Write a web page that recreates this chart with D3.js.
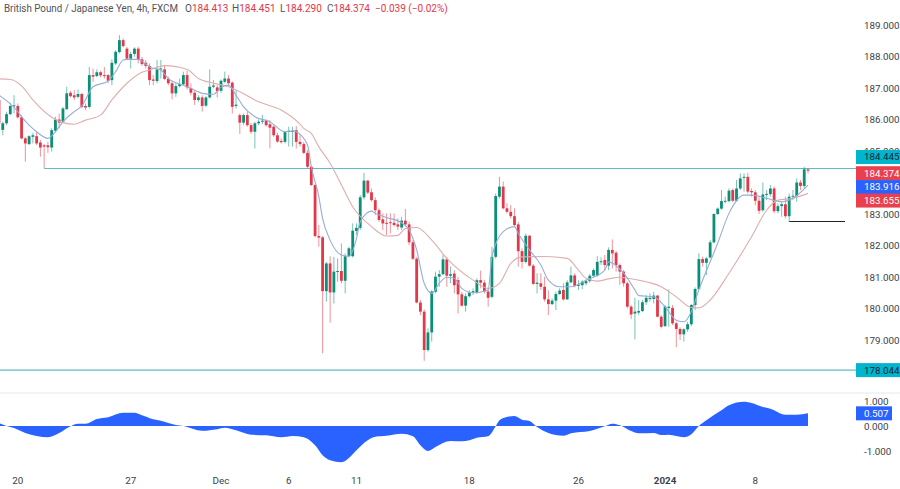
<!DOCTYPE html>
<html>

<head>
    <meta charset="UTF-8">
    <script src="https://d3js.org/d3.v7.min.js"></script>
    <title>GBPJPY 4h</title>
    <style>
        html, body { margin: 0; padding: 0; background: #fff; }
        svg { display: block; }
        text { font-family: Roboto, "Noto Sans", sans-serif; }
    </style>
</head>

<body>
    <svg id="chart" width="900" height="489"></svg>

    <script>
        // candles, one value per 4h bar
        const opens = [
            186.62, 185.67, 185.88, 186.17, 186.43, 186.43, 186.07, 185.40, 185.22, 185.45,
            185.47, 185.27, 185.18, 185.18, 185.11, 185.64, 186.00, 185.93, 186.33, 186.85,
            186.77, 186.72, 186.81, 186.43, 186.40, 187.41, 187.38, 187.50, 187.41, 187.41,
            187.25, 187.78, 188.14, 188.52, 188.25, 187.93, 188.08, 188.25, 187.91, 187.80,
            187.70, 187.27, 187.22, 187.59, 187.59, 187.29, 187.15, 186.83, 187.06, 187.12,
            187.41, 187.00, 186.85, 186.62, 186.70, 186.44, 186.70, 187.04, 187.02, 186.91,
            187.20, 187.30, 187.17, 186.43, 186.14, 185.90, 186.14, 185.82, 185.61, 185.88,
            185.93, 185.96, 185.85, 185.77, 185.50, 185.32, 185.29, 185.62, 185.62, 185.66,
            185.29, 185.22, 184.94, 184.50, 183.92, 182.30, 182.26, 180.55, 181.43, 180.51,
            181.17, 181.19, 180.88, 181.66, 181.66, 182.46, 182.56, 183.53, 184.06, 183.69,
            183.44, 183.12, 182.83, 182.72, 182.74, 182.72, 182.67, 182.57, 182.79, 182.67,
            182.10, 181.58, 180.19, 179.90, 178.68, 179.24, 180.53, 181.01, 181.09, 181.56,
            181.04, 181.11, 180.90, 180.45, 180.09, 180.39, 180.50, 180.50, 180.90, 180.82,
            180.54, 180.37, 181.64, 183.55, 183.87, 183.18, 183.07, 182.93, 182.67, 181.82,
            181.48, 182.31, 181.36, 180.78, 180.80, 180.69, 180.29, 180.14, 180.25, 180.46,
            180.59, 180.29, 180.83, 181.05, 180.72, 180.74, 180.80, 180.87, 181.04, 181.04,
            181.48, 181.54, 181.36, 181.86, 181.77, 181.38, 181.17, 180.80, 180.06, 179.84,
            179.87, 179.92, 180.20, 180.30, 180.30, 180.41, 179.74, 179.44, 180.02, 180.02,
            179.53, 179.35, 179.18, 179.34, 179.50, 180.11, 180.62, 181.57, 181.45, 181.62,
            182.10, 183.00, 183.17, 183.40, 183.41, 183.76, 183.42, 183.81, 184.15, 184.18,
            183.73, 183.69, 183.42, 183.12, 183.62, 183.63, 183.81, 183.09, 183.25, 183.31,
            182.93, 183.55, 183.57, 184.00, 183.89, 184.413
        ];
        const highs = [
            186.99, 185.93, 186.25, 186.53, 186.77, 186.51, 186.14, 185.45, 185.50, 185.58,
            185.61, 185.35, 185.22, 185.29, 185.72, 186.09, 186.19, 186.40, 187.04, 186.91,
            186.93, 186.95, 186.85, 186.51, 187.67, 187.62, 187.59, 187.55, 187.67, 187.44,
            187.91, 188.20, 188.68, 188.57, 188.31, 188.15, 188.29, 188.31, 187.99, 187.89,
            187.78, 187.41, 187.89, 187.89, 187.73, 187.36, 187.20, 187.15, 187.30, 187.52,
            187.55, 187.15, 186.93, 186.77, 186.77, 186.74, 187.59, 187.25, 187.09, 187.27,
            187.52, 187.41, 187.21, 186.93, 186.19, 186.19, 186.25, 185.88, 185.93, 186.00,
            186.14, 186.00, 185.98, 185.82, 185.58, 185.40, 185.64, 185.77, 185.77, 185.79,
            185.50, 185.29, 185.03, 184.53, 183.95, 182.65, 182.30, 181.48, 181.66, 181.64,
            181.59, 182.07, 181.75, 181.96, 182.70, 182.70, 183.60, 184.31, 184.08, 183.81,
            183.53, 183.18, 183.02, 183.02, 183.02, 183.02, 182.86, 182.91, 183.16, 182.75,
            182.17, 181.64, 180.27, 179.97, 179.37, 180.58, 181.17, 181.22, 181.70, 181.64,
            181.33, 181.22, 181.01, 180.53, 180.48, 180.58, 180.64, 180.96, 181.20, 180.90,
            180.64, 181.96, 183.65, 184.18, 184.03, 183.34, 183.28, 183.18, 182.75, 181.91,
            182.38, 182.33, 181.41, 181.12, 181.12, 181.01, 180.58, 180.32, 180.53, 180.64,
            180.80, 180.90, 181.33, 181.12, 180.90, 180.90, 180.92, 181.09, 181.27, 181.66,
            181.62, 181.70, 181.94, 182.19, 181.83, 181.43, 181.22, 180.85, 180.11, 180.34,
            180.27, 180.27, 180.43, 180.48, 180.53, 180.43, 179.79, 180.11, 180.61, 180.11,
            179.58, 179.40, 179.37, 179.58, 180.14, 180.67, 181.75, 181.64, 181.64, 182.17,
            183.02, 183.21, 183.76, 183.55, 183.81, 183.81, 184.08, 184.29, 184.29, 184.31,
            183.81, 183.76, 183.55, 184.00, 183.76, 183.92, 183.87, 183.34, 183.39, 183.55,
            183.65, 183.76, 184.13, 184.08, 184.50, 184.451
        ];
        const lows = [
            185.61, 185.50, 185.82, 186.14, 186.19, 186.03, 185.37, 184.66, 185.19, 185.24,
            185.19, 184.82, 184.45, 184.94, 184.98, 185.61, 185.72, 185.90, 186.30, 186.70,
            186.62, 186.67, 186.35, 186.30, 186.35, 187.20, 187.34, 187.34, 187.30, 187.15,
            187.09, 187.73, 188.10, 188.29, 187.89, 187.62, 187.99, 187.78, 187.70, 187.62,
            187.09, 187.09, 187.15, 187.30, 187.25, 187.09, 186.64, 186.72, 187.02, 187.08,
            186.95, 186.77, 186.46, 186.56, 186.25, 186.40, 186.67, 186.99, 186.70, 186.85,
            187.15, 187.09, 186.19, 186.35, 185.54, 185.82, 185.77, 185.54, 185.08, 185.82,
            185.85, 185.77, 185.08, 185.45, 185.26, 185.24, 185.24, 185.14, 185.14, 185.08,
            185.14, 184.90, 184.45, 183.89, 182.26, 181.96, 178.58, 180.22, 179.55, 180.16,
            180.85, 180.80, 180.48, 181.62, 181.62, 182.33, 182.49, 183.46, 183.63, 183.39,
            182.97, 182.75, 182.49, 182.33, 182.38, 182.60, 182.49, 182.49, 182.60, 182.01,
            181.54, 180.16, 179.79, 178.34, 178.63, 178.95, 180.48, 180.69, 181.06, 180.69,
            180.80, 180.48, 179.84, 180.06, 179.90, 180.35, 180.43, 180.46, 180.64, 180.48,
            180.06, 180.32, 181.59, 183.50, 183.15, 183.02, 182.86, 182.60, 181.33, 181.27,
            181.43, 181.33, 180.75, 180.48, 180.59, 180.22, 179.79, 180.11, 179.95, 180.43,
            180.25, 180.27, 180.80, 180.67, 180.59, 180.61, 180.74, 180.82, 181.01, 181.01,
            181.38, 181.22, 181.22, 181.27, 181.17, 180.75, 180.69, 180.00, 179.66, 179.02,
            179.79, 179.88, 180.11, 180.22, 180.16, 179.72, 179.37, 179.42, 179.42, 179.47,
            178.77, 179.00, 178.95, 179.26, 179.44, 179.95, 180.58, 181.33, 181.06, 181.59,
            182.07, 182.97, 183.13, 183.34, 183.37, 183.38, 183.39, 183.76, 183.71, 183.65,
            183.55, 183.28, 183.00, 183.07, 183.44, 183.55, 183.02, 183.02, 182.91, 182.86,
            182.75, 183.44, 183.39, 183.76, 183.81, 184.29
        ];
        const closes = [
            185.88, 185.88, 186.17, 186.43, 186.45, 186.07, 185.40, 185.24, 185.47, 185.50,
            185.24, 185.11, 185.14, 185.12, 185.66, 186.00, 185.90, 186.35, 186.83, 186.74,
            186.70, 186.81, 186.40, 186.38, 187.41, 187.36, 187.50, 187.40, 187.39, 187.23,
            187.80, 188.15, 188.52, 188.33, 187.93, 188.08, 188.25, 187.91, 187.76, 187.70,
            187.25, 187.23, 187.59, 187.62, 187.29, 187.15, 186.83, 187.06, 187.12, 187.41,
            187.02, 186.85, 186.62, 186.70, 186.43, 186.70, 187.04, 187.08, 186.90, 187.23,
            187.30, 187.15, 186.40, 186.47, 185.90, 186.14, 185.82, 185.61, 185.88, 185.93,
            185.96, 185.82, 185.74, 185.50, 185.30, 185.28, 185.60, 185.64, 185.64, 185.29,
            185.22, 184.94, 184.50, 183.92, 182.30, 182.25, 180.55, 181.43, 180.51, 181.17,
            181.19, 180.88, 181.66, 181.91, 182.47, 182.56, 183.53, 184.06, 183.68, 183.44,
            183.12, 182.81, 182.70, 182.70, 182.72, 182.65, 182.60, 182.79, 182.67, 182.10,
            181.58, 180.19, 179.90, 178.68, 179.24, 180.54, 181.01, 181.09, 181.56, 181.04,
            181.09, 180.74, 180.45, 180.09, 180.39, 180.50, 180.55, 180.90, 180.82, 180.54,
            180.34, 181.64, 183.57, 183.87, 183.18, 183.07, 182.93, 182.65, 181.82, 181.48,
            182.31, 181.36, 180.78, 180.82, 180.69, 180.29, 180.14, 180.25, 180.46, 180.57,
            180.29, 180.83, 181.05, 180.72, 180.76, 180.85, 180.87, 181.04, 181.22, 181.48,
            181.50, 181.38, 181.86, 181.75, 181.38, 181.17, 180.80, 180.06, 179.81, 179.90,
            179.92, 180.20, 180.34, 180.34, 180.41, 179.74, 179.42, 180.06, 180.06, 179.53,
            179.35, 179.18, 179.34, 179.50, 180.11, 180.62, 181.57, 181.45, 181.59, 182.10,
            183.00, 183.17, 183.41, 183.42, 183.74, 183.42, 183.81, 184.13, 184.18, 183.71,
            183.69, 183.42, 183.10, 183.62, 183.64, 183.81, 183.09, 183.25, 183.31, 182.93,
            183.55, 183.58, 184.00, 183.89, 184.42, 184.374
        ];

        // moving averages, read at the bars where they bend
        const slowBars = [0, 3, 6, 9, 14, 17, 20, 23, 27, 30, 34, 38, 40, 44, 50, 53, 57, 61, 64, 69, 75, 80,
            81, 83, 85, 88, 91, 94, 99, 103, 106, 108, 111, 115, 119, 126, 130, 133, 136, 139, 145, 151,
            154, 156, 159, 162, 165, 169, 176, 180, 184, 186, 189, 194, 200, 204, 207, 211, 215];
        const slowValues = [187.29, 187.27, 187.07, 186.62, 186.07, 185.90, 185.85, 185.98, 186.14, 186.62, 187.15, 187.50, 187.57, 187.71, 187.59, 187.30, 187.15, 187.04, 186.88, 186.56, 186.30, 185.85,
            185.72, 185.56, 185.13, 184.61, 183.92, 183.23, 182.60, 182.30, 182.32, 182.54, 182.57, 182.17, 181.59, 180.90, 180.64, 180.80, 181.43, 181.64, 181.65, 181.59,
            181.22, 180.96, 180.87, 180.94, 180.99, 180.92, 180.69, 180.37, 180.03, 180.02, 180.27, 181.12, 182.28, 183.12, 183.44, 183.50, 183.655];
        const fastBars = [0, 5, 6, 8, 10, 13, 15, 17, 20, 22, 25, 29, 31, 33, 34, 37, 38, 40, 43, 45, 49, 52, 54, 57, 59, 61, 63, 65, 68, 72, 76, 78,
            79, 82, 83, 85, 86, 88, 91, 93, 95, 96, 99, 100, 103, 107, 109, 111, 113, 115, 117, 119, 121, 123, 126, 130, 131, 134, 137, 138, 141, 144, 146, 149, 152,
            156, 161, 162, 166, 169, 170, 174, 177, 180, 182, 184, 186, 191, 194, 198, 200, 204, 208, 211, 215];
        const fastValues = [186.77, 186.25, 186.09, 185.82, 185.61, 185.40, 185.61, 185.93, 186.25, 186.43, 187.04, 187.22, 187.52, 187.89, 187.91, 187.91, 187.85, 187.67, 187.57, 187.30, 187.09, 186.93, 186.83, 186.80, 187.02, 187.09, 186.77, 186.40, 186.09, 185.93, 185.61, 185.64,
            185.61, 185.19, 184.50, 183.55, 182.86, 182.17, 181.70, 181.66, 182.22, 182.75, 183.09, 183.02, 182.89, 182.72, 182.49, 181.86, 180.80, 180.48, 180.80, 180.99, 180.96, 180.64, 180.50, 180.59, 181.64, 182.44, 182.60, 182.38, 181.86, 181.38, 180.90, 180.69, 180.69,
            180.90, 181.22, 181.48, 181.12, 180.59, 180.41, 180.37, 180.06, 179.63, 179.58, 179.90, 180.59, 182.07, 183.02, 183.60, 183.60, 183.50, 183.39, 183.50, 183.916];

        // lower panel
        const oscBars = [0, 2, 4, 7, 10, 13, 16, 19, 21, 23, 26, 29, 33, 36, 38, 41, 43, 47, 49, 54, 58, 60, 63, 67, 71, 75, 78, 81, 84, 86, 88, 91, 93, 95, 98, 100, 103, 107, 110, 112, 114, 116,
            120, 123, 125, 127, 130, 132, 133, 135, 137, 139, 141, 143, 146, 150, 152, 157, 161, 163, 165, 168, 170, 174, 176, 178, 182, 184, 186, 188, 192, 194, 198, 200, 203, 205, 209, 212, 215];
        const oscValues = [0.12, 0, -0.08, -0.28, -0.40, -0.45, -0.28, -0.01, 0.09, 0.09, 0.28, 0.35, 0.53, 0.53, 0.43, 0.27, 0.21, 0.04, 0, -0.19, -0.13, -0.07, -0.17, -0.35, -0.37, -0.45, -0.40, -0.45, -0.77, -1.17, -1.37, -1.45, -1.28, -0.97, -0.57, -0.43, -0.39, -0.31, -0.41, -0.77, -1.0, -0.84,
            -0.60, -0.61, -0.57, -0.47, -0.41, -0.01, 0.23, 0.36, 0.40, 0.25, 0.20, -0.04, -0.28, -0.39, -0.29, -0.20, -0.01, 0.09, 0.03, -0.20, -0.29, -0.28, -0.36, -0.35, -0.45, -0.33, 0, 0.23, 0.63, 0.83, 0.97, 0.92, 0.76, 0.69, 0.45, 0.45, 0.507];

        const priceTicks = [189, 188, 187, 186, 185, 183, 182, 181, 180, 179];
        const oscTicks = [1, 0, -1];

        // labels on the time axis and the bar they sit under
        const dateBars = [5, 35, 59, 77, 95, 125, 154, 177, 201];
        const dateLabels = ['20', '27', 'Dec', '6', '11', '18', '26', '2024', '8'];

        const resistance = 184.445;
        const support = 178.044;
        const lastLow = 182.78;
        const lastLowFromBar = 210;

        const up = '#0b8f76', down = '#e2384a';
        const labelSize = 9.8;

        const svg = d3.select('#chart');
        const xScale = d3.scaleLinear().domain([0, 215]).range([-1, 808]);
        const yScale = d3.scaleLinear().domain([179, 189]).range([340, 25]);
        const oscScale = d3.scaleLinear().domain([-1, 1]).range([451, 401]);

        const bars = opens.map((o, i) => ({ i: i, o: o, h: highs[i], l: lows[i], c: closes[i] }));

        // horizontal levels
        svg.append('line').attr('x1', xScale(12)).attr('x2', 856)
            .attr('y1', yScale(resistance)).attr('y2', yScale(resistance))
            .attr('stroke', '#5fbcc4').attr('stroke-width', 1.2);
        svg.append('line').attr('x1', 0).attr('x2', 856)
            .attr('y1', yScale(support)).attr('y2', yScale(support))
            .attr('stroke', '#5fbcc4').attr('stroke-width', 1.2);
        svg.append('line').attr('x1', xScale(lastLowFromBar)).attr('x2', 845)
            .attr('y1', Math.round(yScale(lastLow)) + 0.5).attr('y2', Math.round(yScale(lastLow)) + 0.5)
            .attr('stroke', '#222').attr('stroke-width', 1);

        // wicks
        svg.append('g').selectAll('line').data(bars).join('line')
            .attr('x1', d => xScale(d.i)).attr('x2', d => xScale(d.i))
            .attr('y1', d => yScale(d.h)).attr('y2', d => yScale(d.l))
            .attr('stroke', d => d.c >= d.o ? up : down)
            .attr('stroke-opacity', 0.55)
            .attr('stroke-width', 1);

        // bodies
        svg.append('g').selectAll('rect').data(bars).join('rect')
            .attr('x', d => xScale(d.i) - 1.4)
            .attr('width', 2.8)
            .attr('y', d => yScale(Math.max(d.o, d.c)))
            .attr('height', d => Math.max(1, Math.abs(yScale(d.o) - yScale(d.c))))
            .attr('fill', d => d.c >= d.o ? up : down);

        // moving averages
        const maLine = d3.line()
            .x(d => xScale(d[0]))
            .y(d => yScale(d[1]))
            .curve(d3.curveMonotoneX);
        svg.append('path').datum(d3.zip(slowBars, slowValues))
            .attr('d', maLine).attr('fill', 'none')
            .attr('stroke', '#dfaeae').attr('stroke-width', 1.1);
        svg.append('path').datum(d3.zip(fastBars, fastValues))
            .attr('d', maLine).attr('fill', 'none')
            .attr('stroke', '#97add6').attr('stroke-width', 1.1);

        // panel divider
        svg.append('line').attr('x1', 0).attr('x2', 900).attr('y1', 393).attr('y2', 393)
            .attr('stroke', '#e6e8ee').attr('stroke-width', 1);

        // oscillator
        const oscArea = d3.area()
            .x(d => xScale(d[0]))
            .y0(oscScale(0))
            .y1(d => oscScale(d[1]))
            .curve(d3.curveMonotoneX);
        svg.append('path').datum(d3.zip(oscBars, oscValues))
            .attr('d', oscArea).attr('fill', '#2962ff');

        // right hand scale
        const priceAxis = d3.axisRight(yScale).tickValues(priceTicks).tickSize(0).tickPadding(0)
            .tickFormat(d3.format('.3f'));
        svg.append('g').attr('transform', 'translate(864,0)').call(priceAxis)
            .call(g => g.select('.domain').remove())
            .selectAll('text').attr('font-size', labelSize).attr('fill', '#3a3e48')
            .style('font-family', 'Roboto, sans-serif');
        const oscAxis = d3.axisRight(oscScale).tickValues(oscTicks).tickSize(0).tickPadding(0)
            .tickFormat(d => d3.format('.3f')(d).replace('\u2212', '-'));
        svg.append('g').attr('transform', 'translate(864,0)').call(oscAxis)
            .call(g => g.select('.domain').remove())
            .selectAll('text').attr('font-size', labelSize).attr('fill', '#3a3e48')
            .style('font-family', 'Roboto, sans-serif');

        // time scale
        svg.append('g').selectAll('text').data(dateBars).join('text')
            .attr('x', d => xScale(d))
            .attr('y', 484)
            .attr('text-anchor', 'middle')
            .attr('font-size', labelSize)
            .attr('font-weight', (d, i) => dateLabels[i] === '2024' ? 700 : 400)
            .attr('fill', '#3a3e48')
            .text((d, i) => dateLabels[i]);

        // price tags
        const tags = [
            { v: resistance, fill: '#00b5cc', color: '#123', scale: yScale, dy: -11.5, right: 900 },
            { v: 184.374, fill: '#e8404f', color: '#fff', scale: yScale, dy: 2.5, right: 900 },
            { v: 183.916, fill: '#2962ff', color: '#fff', scale: yScale, dy: 1.9, right: 900 },
            { v: 183.655, fill: '#e8404f', color: '#fff', scale: yScale, dy: 7.2, right: 900 },
            { v: support, fill: '#00b5cc', color: '#123', scale: yScale, dy: 0, right: 900 },
            { v: 0.507, fill: '#2962ff', color: '#fff', scale: oscScale, dy: 0, right: 892 }
        ];
        const tag = svg.append('g').selectAll('g').data(tags).join('g')
            .attr('transform', d => 'translate(0,' + (d.scale(d.v) + d.dy) + ')');
        tag.append('rect')
            .attr('x', 856).attr('y', -7)
            .attr('width', d => d.right - 856).attr('height', 14)
            .attr('fill', d => d.fill);
        tag.append('text')
            .attr('x', 864).attr('dy', '0.35em')
            .attr('font-size', labelSize)
            .attr('fill', d => d.color)
            .text(d => d3.format('.3f')(d.v));

        // header line
        svg.append('text').attr('x', 4).attr('y', 12)
            .attr('font-size', 10.2).attr('fill', '#50535e')
            .attr('textLength', 174).attr('lengthAdjust', 'spacingAndGlyphs')
            .text('British Pound / Japanese Yen, 4h, FXCM');
        const quote = [['O', '184.413', 185], ['H', '184.451', 232], ['L', '184.290', 280], ['C', '184.374', 327]];
        const head = svg.append('text').attr('y', 12).attr('font-size', 10).attr('fill', '#50535e');
        quote.forEach(q => {
            head.append('tspan').attr('x', q[2]).text(q[0]);
            head.append('tspan').attr('fill', '#e2384a').text(q[1]);
        });
        head.append('tspan').attr('x', 375).attr('fill', '#e2384a').text('\u22120.039 (\u22120.02%)');
    </script>
</body>

</html>
